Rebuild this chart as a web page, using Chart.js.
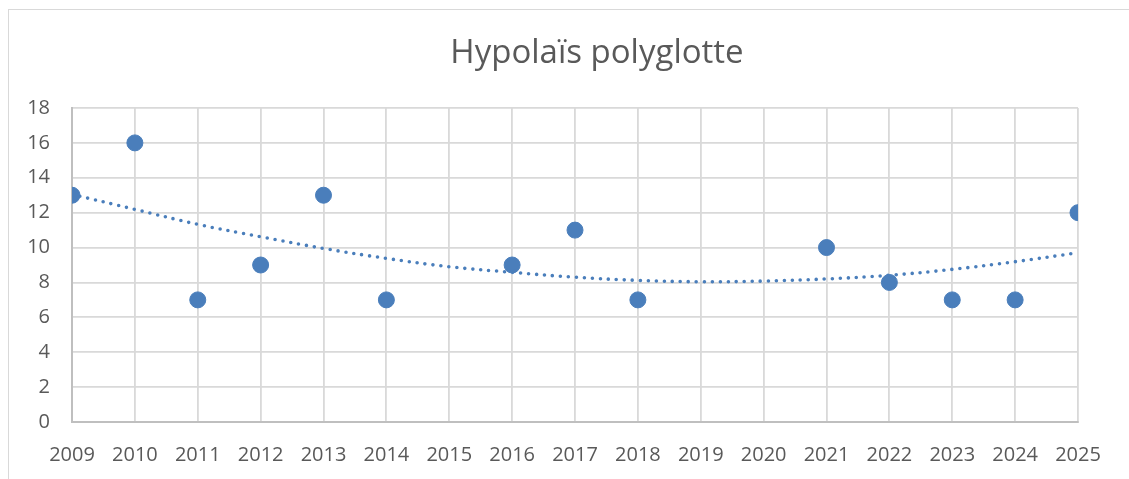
<!DOCTYPE html>
<html>
<head>
<meta charset="utf-8">
<script src="https://cdn.jsdelivr.net/npm/chart.js@4"></script>
<style>
  body { margin: 0; background: #fff; }
  #frame { position: absolute; left: 8px; top: 9px; width: 1200px; height: 600px; border: 1px solid #d9d9d9; }
  #chart { position: absolute; left: 0; top: 0; }
</style>
</head>
<body>
<div id="frame"></div>
<canvas id="chart" width="1129" height="479"></canvas>
<script>
// observed counts (2015, 2019 and 2020 have no point)
const years  = [2009, 2010, 2011, 2012, 2013, 2014, 2016, 2017, 2018, 2021, 2022, 2023, 2024, 2025];
const counts = [13, 16, 7, 9, 13, 7, 9, 11, 7, 10, 8, 7, 7, 12];

// polynomial trend line
const trendYears  = [2009, 2010, 2011, 2012, 2013, 2014, 2015, 2016, 2017, 2018, 2019, 2020, 2021, 2022, 2023, 2024, 2025];
const trendValues = [13.05, 12.19, 11.33, 10.62, 9.95, 9.38, 8.9, 8.58, 8.3, 8.12, 8.04, 8.08, 8.2, 8.41, 8.75, 9.19, 9.7];

const yTicks = [0, 2, 4, 6, 8, 10, 12, 14, 16, 18];
const titleText = 'Hypolaïs polyglotte';

const blue = '#4a7ebb';
const grey = '#595959';
const gridColor = '#d9d9d9';
const axisColor = '#bfbfbf';

// the excel title sits off-centre, so draw it ourselves
const titlePlugin = {
  id: 'offsetTitle',
  afterDraw(chart) {
    const ctx = chart.ctx;
    ctx.save();
    ctx.font = 'normal 33px "Open Sans"';
    ctx.fillStyle = grey;
    ctx.textAlign = 'center';
    ctx.textBaseline = 'alphabetic';
    ctx.fillText(titleText, 597, 63);
    ctx.restore();
  }
};

new Chart(document.getElementById('chart'), {
  type: 'scatter',
  data: {
    datasets: [
      {
        label: titleText,
        data: years.map((y, i) => ({ x: y, y: counts[i] })),
        backgroundColor: blue,
        borderColor: blue,
        pointRadius: 8,
        pointHoverRadius: 8,
        order: 1
      },
      {
        label: 'Tendance',
        type: 'line',
        data: trendYears.map((y, i) => ({ x: y, y: trendValues[i] })),
        borderColor: blue,
        borderWidth: 3.6,
        borderDash: [0, 8],
        borderCapStyle: 'round',
        pointRadius: 0,
        tension: 0.4,
        fill: false,
        order: 2
      }
    ]
  },
  options: {
    responsive: false,
    animation: false,
    layout: { padding: { left: 0, right: 51, top: 108, bottom: 0 } },
    plugins: {
      legend: { display: false },
      tooltip: { enabled: false },
      title: { display: false }
    },
    scales: {
      x: {
        type: 'linear',
        min: 2009,
        max: 2025,
        afterFit: s => { s.height = 57; },
        ticks: {
          stepSize: 1,
          autoSkip: false,
          color: grey,
          font: { family: 'Open Sans', size: 20 },
          padding: 21,
          maxRotation: 0,
          callback: v => String(v)
        },
        grid: { color: gridColor, lineWidth: 1.8, drawTicks: false },
        border: { color: axisColor, width: 2 }
      },
      y: {
        min: 0,
        max: 18,
        afterFit: s => { s.width = 72; },
        afterBuildTicks: s => { s.ticks = yTicks.map(v => ({ value: v })); },
        ticks: {
          color: grey,
          font: { family: 'Open Sans', size: 20 },
          padding: 22
        },
        grid: { color: gridColor, lineWidth: 1.8, drawTicks: false },
        border: { color: axisColor, width: 2 }
      }
    }
  },
  plugins: [titlePlugin]
});
</script>
</body>
</html>
